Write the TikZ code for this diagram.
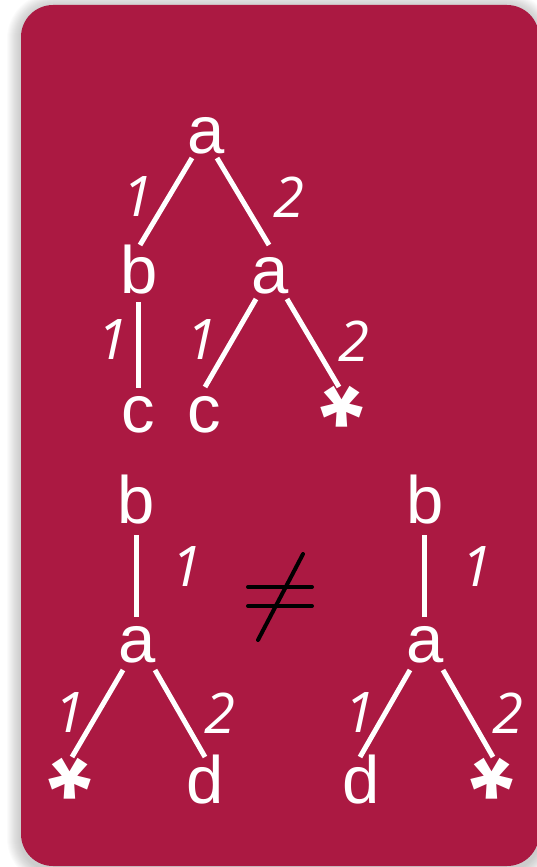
\documentclass[tikz,border=0pt]{standalone}
\usepackage{fontspec}
\setmainfont{Liberation Sans}
\newfontfamily\lblfont{Open Sans}
\usetikzlibrary{calc}
\definecolor{cardred}{RGB}{171,25,66}
\newcommand{\starglyph}{\raisebox{-0.42em}[0.30em][0pt]{\bfseries *}}
\begin{document}
\begin{tikzpicture}[x=1pt,y=-1pt,
  letter/.style={text=white, inner sep=0pt, anchor=base, font=\fontsize{67}{67}\selectfont},
  star/.style={text=white, inner sep=0pt, rotate=180, anchor=center, font=\fontsize{110}{110}\selectfont},
  lbl/.style={text=white, inner sep=0pt, font=\lblfont\itshape\fontsize{56}{56}\selectfont},
  edge/.style={draw=white, line width=5pt},
  neqline/.style={draw=black, line width=4pt, line cap=round}]
\useasboundingbox (0,0) rectangle (537,867);
% shadow
\foreach \i in {1,...,14} {
  \fill[black, opacity=0.014, rounded corners={32+\i}]
    ({21-\i},{7-\i}) rectangle ({539+\i},{870+\i});
}
% card
\fill[cardred, rounded corners=32] (21,5) rectangle (539,866);

% top tree
\node[letter] (t1) at (206,153) {a};
\node[letter] (t2) at (139,293) {b};
\node[letter] (t3) at (270,293) {a};
\node[letter] (t4) at (138,432) {c};
\node[letter] (t5) at (204,432) {c};
\node[star]   (t6) at (342,414) {\starglyph};
\draw[edge] ($(t1.base)+(-14,5)$) -- ($(t2.base)+(1,-48)$);
\draw[edge] ($(t1.base)+(11,5)$) -- ($(t3.base)+(-1,-48)$);
\draw[edge] ($(t2.base)+(-1,9)$) -- ($(t4.base)+(0,-44)$);
\draw[edge] ($(t3.base)+(-14,6)$) -- ($(t5.base)+(1,-45)$);
\draw[edge] ($(t3.base)+(17,6)$) -- ($(t6.center)+(-3,-27)$);
\node[lbl] (t1l) at (138,197) {1};
\node[lbl] (t2l) at (289,197) {2};
\node[lbl] (t3l) at (113,340) {1};
\node[lbl] (t4l) at (202,340) {1};
\node[lbl] (t5l) at (354,341) {2};

% bottom left tree
\node[letter] (l1) at (136,523) {b};
\node[letter] (l2) at (137,662) {a};
\node[star]   (l3) at (70,786) {\starglyph};
\node[letter] (l4) at (205,803) {d};
\draw[edge] ($(l1.base)+(0,12)$) -- ($(l2.base)+(-1,-45)$);
\draw[edge] ($(l2.base)+(-14,8)$) -- ($(l3.center)+(2,-29)$);
\draw[edge] ($(l2.base)+(18,8)$) -- ($(l4.base)+(0,-46)$);
\node[lbl] (l1l) at (187,567) {1};
\node[lbl] (l2l) at (70,713) {1};
\node[lbl] (l3l) at (220,713) {2};

% not equal
\coordinate (ne) at (280,597);
\draw[neqline] ($(ne)+(-32,-10)$) -- ($(ne)+(32,-10)$);
\draw[neqline] ($(ne)+(-32,9)$) -- ($(ne)+(32,9)$);
\draw[neqline] ($(ne)+(-22,43)$) -- ($(ne)+(23,-43)$);

% bottom right tree
\node[letter] (r1) at (425,523) {b};
\node[letter] (r2) at (425,662) {a};
\node[letter] (r3) at (361,803) {d};
\node[star]   (r4) at (492,786) {\starglyph};
\draw[edge] ($(r1.base)+(-1,12)$) -- ($(r2.base)+(-1,-45)$);
\draw[edge] ($(r2.base)+(-15,8)$) -- ($(r3.base)+(-1,-46)$);
\draw[edge] ($(r2.base)+(18,8)$) -- ($(r4.center)+(1,-29)$);
\node[lbl] (r1l) at (477,567) {1};
\node[lbl] (r2l) at (360,713) {1};
\node[lbl] (r3l) at (508,713) {2};
\end{tikzpicture}
\end{document}
